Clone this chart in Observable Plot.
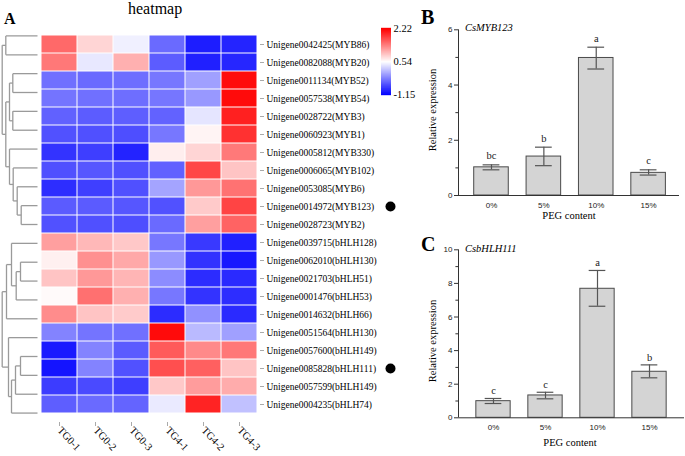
<!DOCTYPE html>
<html>
<head>
<meta charset="utf-8">
<script src="https://cdn.jsdelivr.net/npm/d3@7"></script>
<script src="https://cdn.jsdelivr.net/npm/@observablehq/plot@0.6"></script>
<style>
  body { margin: 0; background: #fff; }
  #root { position: relative; width: 685px; height: 456px; overflow: hidden; background: #fff; font-family: "Liberation Serif", serif; color: #000; }
  .abs { position: absolute; white-space: nowrap; line-height: 1; }
  svg { overflow: visible; }
</style>
</head>
<body>
<div id="root"></div>
<script>
// ---------------- DATA ----------------
const columns = ["TG0-1", "TG0-2", "TG0-3", "TG4-1", "TG4-2", "TG4-3"];
const genes = [
  "Unigene0042425(MYB86)", "Unigene0082088(MYB20)", "Unigene0011134(MYB52)", "Unigene0057538(MYB54)",
  "Unigene0028722(MYB3)", "Unigene0060923(MYB1)", "Unigene0005812(MYB330)", "Unigene0006065(MYB102)",
  "Unigene0053085(MYB6)", "Unigene0014972(MYB123)", "Unigene0028723(MYB2)",
  "Unigene0039715(bHLH128)", "Unigene0062010(bHLH130)", "Unigene0021703(bHLH51)", "Unigene0001476(bHLH53)",
  "Unigene0014632(bHLH66)", "Unigene0051564(bHLH130)", "Unigene0057600(bHLH149)", "Unigene0085828(bHLH111)",
  "Unigene0057599(bHLH149)", "Unigene0004235(bHLH74)"
];
const heatValues = [
  [1.53, 0.82, 0.44, -0.45, -0.96, -0.91],
  [1.43, 0.39, 1.06, -0.54, -0.94, -0.90],
  [-0.41, -0.45, -0.42, -0.36, -0.09, 2.14],
  [-0.38, -0.41, -0.42, -0.37, -0.14, 2.15],
  [-0.51, -0.54, -0.53, -0.50, 0.37, 2.01],
  [-0.61, -0.62, -0.63, -0.36, 0.61, 1.90],
  [-0.81, -0.74, -0.92, 0.65, 0.82, 1.42],
  [-0.62, -0.58, -0.62, -0.51, 1.75, 0.93],
  [-0.85, -0.73, -0.62, -0.06, 1.22, 1.47],
  [-0.55, -0.55, -0.58, -0.61, 0.89, 1.77],
  [-0.61, -0.62, -0.63, -0.45, 1.17, 1.57],
  [1.17, 1.01, 0.90, -0.36, -0.77, -0.94],
  [0.64, 1.27, 1.11, -0.14, -0.82, -0.99],
  [0.93, 1.22, 1.03, -0.22, -0.86, -0.87],
  [0.57, 1.48, 1.06, -0.36, -0.81, -0.85],
  [1.30, 0.93, 0.88, -0.86, -0.19, -0.87],
  [-0.28, -0.38, -0.41, 2.15, 0.08, -0.09],
  [-0.98, -0.28, -0.55, 1.63, 1.31, 1.43],
  [-1.02, -0.28, -0.61, 1.70, 1.59, 0.93],
  [-0.75, -0.66, -0.74, 0.90, 1.19, 1.09],
  [-0.53, -0.45, -0.49, 0.40, 1.99, 0.13]
];
const colorDomain = [-1.15, 0.54, 2.22];
const colorRange = ["#0000ff", "#ffffff", "#ff0000"];
// hierarchical merges (hclust style): negative = leaf -(row+1), positive = earlier merge number; third = height
const merges = [
  [-1, -2, 31.7], [-3, -4, 24.7], [-5, -6, 24.7], [2, 3, 28], [-10, -11, 16.3],
  [-9, 5, 20.3], [-8, 6, 24.3], [-7, 7, 28], [4, 8, 31.7], [1, 9, 35.3],
  [-13, -14, 17], [11, -15, 21.3], [-12, 12, 26], [13, -16, 31],
  [-18, -19, 17], [15, -20, 22], [16, -21, 26], [-17, 17, 29], [14, 18, 35.3]
];
const markedGenes = ["Unigene0014972(MYB123)", "Unigene0085828(bHLH111)"];

const pegLevels = ["0%", "5%", "10%", "15%"];
const mybMean = [1.02, 1.41, 4.98, 0.82];
const mybLow = [0.93, 1.08, 4.58, 0.74];
const mybHigh = [1.11, 1.75, 5.37, 0.93];
const mybLetters = ["bc", "b", "a", "c"];
const bhlhMean = [0.99, 1.33, 7.68, 2.74];
const bhlhLow = [0.85, 1.13, 6.64, 2.38];
const bhlhHigh = [1.15, 1.52, 8.77, 3.15];
const bhlhLetters = ["c", "c", "a", "b"];

// ---------------- BUILD ----------------
const root = document.getElementById("root");
function place(node, left, top) {
  node.style.position = "absolute";
  node.style.left = left + "px";
  node.style.top = top + "px";
  root.appendChild(node);
  return node;
}
function label(text, left, top, css) {
  const d = document.createElement("div");
  d.className = "abs";
  d.textContent = text;
  Object.assign(d.style, css || {});
  d.style.left = left + "px";
  d.style.top = top + "px";
  root.appendChild(d);
  return d;
}
const colorScale = {type: "linear", domain: colorDomain, range: colorRange, interpolate: "rgb"};
const transparent = {background: "transparent", overflow: "visible"};

// Dendrogram
const nodes = [];
const segs = [];
function pos(ref) { return ref < 0 ? {y: -ref - 1 + 0.5, h: 0} : nodes[ref - 1]; }
merges.forEach(([a, b, h]) => {
  const A = pos(a), B = pos(b);
  segs.push({x1: h, y1: A.y, x2: h, y2: B.y});
  segs.push({x1: h, y1: A.y, x2: A.h, y2: A.y});
  segs.push({x1: h, y1: B.y, x2: B.h, y2: B.y});
  nodes.push({y: (A.y + B.y) / 2, h});
});
place(Plot.plot({
  width: 40, height: 456, marginLeft: 0, marginRight: 3, marginTop: 26, marginBottom: 34,
  x: {domain: [37, 0], axis: null},
  y: {domain: [0, genes.length], reverse: true, axis: null},
  style: transparent,
  marks: [Plot.link(segs, {x1: "x1", y1: "y1", x2: "x2", y2: "y2", stroke: "#9a9a9a", strokeWidth: 1.3})]
}), 0, 0);

// Heatmap
const cells = genes.flatMap((g, i) => columns.map((c, j) => ({gene: g, col: c, v: heatValues[i][j]})));
place(Plot.plot({
  width: 400, height: 456, marginLeft: 38, marginRight: 141, marginTop: 26, marginBottom: 34,
  x: {type: "band", domain: columns, padding: 0},
  y: {type: "band", domain: genes, padding: 0},
  color: colorScale,
  style: {...transparent, fontFamily: "Liberation Serif"},
  marks: [
    Plot.cell(cells, {x: "col", y: "gene", fill: "v", inset: 0.5}),
    Plot.axisY({anchor: "right", tickSize: 4, tickPadding: 3, fontSize: 9.5, stroke: "#aaa", fill: "black", label: null}),
    Plot.axisX({anchor: "bottom", tickSize: 4, tickPadding: 2, tickRotate: 47, fontSize: 10.5, stroke: "#aaa", fill: "black", label: null})
  ]
}), 0, 0);

// Marker dots
place(Plot.plot({
  width: 20, height: 456, marginLeft: 0, marginRight: 0, marginTop: 26, marginBottom: 34,
  y: {type: "band", domain: genes, padding: 0, axis: null},
  style: transparent,
  marks: [Plot.dot(markedGenes, {y: d => d, r: 5, fill: "black"})]
}), 380, 0);

// Colour legend
const legendSteps = d3.range(0, 101).map(k => colorDomain[0] + (colorDomain[2] - colorDomain[0]) * k / 100);
place(Plot.plot({
  width: 50, height: 120, marginLeft: 0, marginRight: 40, marginTop: 28, marginBottom: 26,
  y: {domain: [colorDomain[0], colorDomain[2]]},
  color: colorScale,
  style: {...transparent, fontFamily: "Liberation Serif"},
  marks: [
    Plot.ruleY(legendSteps, {y: d => d, stroke: d => d, strokeWidth: 1.4}),
    Plot.axisY({anchor: "right", ticks: colorDomain, tickFormat: d => d.toFixed(2), tickSize: 0, tickPadding: 2, fontSize: 10.5, fill: "black", label: null})
  ]
}), 381, 0);

// Bar panels
function barPanel({mean, low, high, letters, yMax, yMajor, yMinor, height, marginBottom, marginRight, xDomain, letterDy}) {
  const d = pegLevels.map((p, i) => ({i, p, m: mean[i], lo: low[i], hi: high[i], L: letters[i]}));
  const x0 = xDomain[0];
  return Plot.plot({
    width: 265, height, marginLeft: 38, marginRight, marginTop: 29.3, marginBottom,
    x: {domain: xDomain},
    y: {domain: [0, yMax]},
    style: {...transparent, fontFamily: "Liberation Sans"},
    marks: [
      Plot.rect(d, {x1: e => e.i - 0.33, x2: e => e.i + 0.33, y1: 0, y2: "m", fill: "#d4d4d4", stroke: "#4a4a4a", strokeWidth: 1}),
      Plot.ruleX(d, {x: "i", y1: "lo", y2: "hi", stroke: "#555", strokeWidth: 1.2}),
      Plot.ruleY(d, {y: "hi", x1: e => e.i - 0.16, x2: e => e.i + 0.16, stroke: "#555", strokeWidth: 1.2}),
      Plot.ruleY(d, {y: "lo", x1: e => e.i - 0.16, x2: e => e.i + 0.16, stroke: "#555", strokeWidth: 1.2}),
      Plot.text(d, {x: "i", y: "hi", text: "L", dy: letterDy, fontFamily: "Liberation Serif", fontSize: 10.5, fill: "#222"}),
      Plot.ruleX([x0], {y1: 0, y2: yMax, stroke: "#333", strokeWidth: 1}),
      Plot.ruleY([0], {stroke: "#333", strokeWidth: 1}),
      Plot.ruleY(yMinor, {x1: x0 - 0.05, x2: x0, stroke: "#333"}),
      Plot.axisY({ticks: yMajor, tickFormat: v => String(v), tickSize: 4, tickPadding: 2, fontSize: 8, stroke: "#333", fill: "#222", label: null}),
      Plot.axisX({ticks: [0, 1, 2, 3], tickFormat: i => pegLevels[i], tickSize: 0, tickPadding: 7, fontSize: 8, fill: "#222", label: null})
    ]
  });
}
place(barPanel({
  mean: mybMean, low: mybLow, high: mybHigh, letters: mybLetters,
  yMax: 6, yMajor: [0, 2, 4, 6], yMinor: [1, 3, 5],
  height: 220, marginBottom: 25, marginRight: 6, xDomain: [-0.63, 3.59], letterDy: -9
}), 420, 0);
place(barPanel({
  mean: bhlhMean, low: bhlhLow, high: bhlhHigh, letters: bhlhLetters,
  yMax: 10, yMajor: [0, 2, 4, 6, 8, 10], yMinor: [1, 3, 5, 7, 9],
  height: 236, marginBottom: 38.7, marginRight: 1, xDomain: [-0.673, 3.673], letterDy: -7.5
}), 420, 220);

// Texts
label("heatmap", 128, 1, {fontSize: "16px"});
label("A", 4, 11, {fontSize: "16px", fontWeight: "bold"});
label("B", 421, 7, {fontSize: "20px", fontWeight: "bold"});
label("C", 421, 234, {fontSize: "20px", fontWeight: "bold"});
label("CsMYB123", 465, 23, {fontSize: "10.5px", fontStyle: "italic"});
label("CsbHLH111", 465, 244, {fontSize: "10.5px", fontStyle: "italic"});
function yTitle(text, cx, cy) {
  const d = label(text, cx - 60, cy - 6, {fontSize: "10.5px", width: "120px", height: "12px", lineHeight: "12px", textAlign: "center", transform: "rotate(-90deg)", transformOrigin: "50% 50%"});
  return d;
}
yTitle("Relative expression", 433, 110);
yTitle("Relative expression", 433, 341);
function xTitle(text, cx, cy) {
  return label(text, cx - 50, cy - 6, {fontSize: "10.5px", width: "100px", height: "12px", lineHeight: "12px", textAlign: "center"});
}
xTitle("PEG content", 569, 216);
xTitle("PEG content", 570, 443);
</script>
</body>
</html>
